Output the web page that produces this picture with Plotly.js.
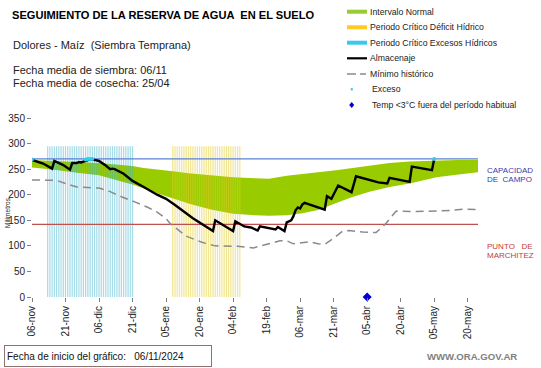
<!DOCTYPE html>
<html>
<head>
<meta charset="utf-8">
<script src="https://cdn.plot.ly/plotly-3.0.1.min.js"></script>
<style>html,body{margin:0;padding:0;background:#fff}#chart{width:541px;height:368px}</style>
</head>
<body>
<div id="chart"></div>
<script>
// ---- data (days since 06/11/2024, millimetres) ----
const tickDays = [0,15,30,45,60,75,90,105,120,135,150,165,180,195];
const tickLabels = ["06-nov","21-nov","06-dic","21-dic","05-ene","20-ene","04-feb","19-feb","06-mar","21-mar","05-abr","20-abr","05-may","20-may"];

const normalDays  = [0,10,20,30,40,45,50,55,60,65,70,80,90,100,106,114,121,128,136,143,151,160,169,181,190,200];
const normalUpper = [268,266,264,262,258,256,252,250,247,245,242,238,234,232,231,237,240,244,248,252,257,262,265,267,268,268];
const normalLower = [253,249,243,238,226,220,212,204,197,190,183,171,163,160,159,160,164,170,184,195,206,215,222,234,239,244];

const excessPeriodDays  = [7,8,9,10,11,12,13,14,15,16,17,18,19,20,21,22,23,24,25,26,27,28,29,30,31,32,33,34,35,36,37,38,39,40,41,42,43,44,45];
const deficitPeriodDays = [63,64,65,66,67,68,69,70,71,72,73,74,75,76,77,78,79,80,81,82,83,84,85,86,87,88,89,90,91,92,93];
const periodTop = 295;

const storageDays = [0,2,5,9,10,14,17,18,20,21,22,24,26,28,30,33,35,36,37,41,45,50,56,60,64,72,76,81,82,86,90,91,95,98,101,102,106,109,110,113,114,116,117,118,119,120,121,122,131,132,134,137,143,145,155,159,160,169,170,179,180];
const storageMm   = [268,265,261,251,266,258,249,262,262,264,263,266,269,268,266,257,250,251,250,241,227,215,200,192,180,154,143,129,150,140,129,148,138,136,130,138,135,132,137,129,146,150,158,170,175,173,181,184,171,197,192,218,205,236,224,222,233,225,255,248,270];

const minDays = [0,5,11,15,20,25,30,35,40,46,52,56,60,62,66,69,76,82,92,99,106,111,114,117,124,128,131,135,139,142,148,154,158,163,170,180,187,194,199];
const minMm   = [229,228,228,222,215,214,213,206,196,186,175,166,153,143,130,119,107,100,99,96,104,110,110,104,108,104,103,115,129,130,127,126,142,168,167,168,169,172,171];

const excessDays = [0,24,25,26,27,180];
const excessMm   = [269,269,270,270,270,270];

const frostDays = [150];
const frostMm   = [0];

const fieldCapacity = 270;
const wiltingPoint  = 142;
const axisEnd = 199.6;

// ---- geometry helpers (pixel -> paper) ----
const L = 32, T = 118, W = 446, H = 179;
const px = x => (x - L) / W;
const py = y => (T + H - y) / H;
const FONT = "Liberation Sans, Arial, sans-serif";

const traces = [
  {x: normalDays, y: normalLower, type:'scatter', mode:'lines', line:{width:0, color:'rgba(0,0,0,0)'}, hoverinfo:'skip', showlegend:false, zorder:0},
  {x: normalDays, y: normalUpper, type:'scatter', mode:'lines', fill:'tonexty', fillcolor:'#99cc00', line:{width:0, color:'#99cc00'}, name:'Intervalo Normal', showlegend:false, zorder:0},
  {x: frostDays, y: frostMm, type:'scatter', mode:'markers', marker:{color:'#0000cc', size:7, symbol:'diamond'}, cliponaxis:false, name:'Temp <3°C fuera del período habitual', showlegend:false, zorder:0},
  {x: excessPeriodDays, y: excessPeriodDays.map(() => periodTop), type:'bar', width:0.55, marker:{color:'rgba(55,177,204,0.45)', line:{width:0}}, name:'Periodo Crítico Excesos Hídricos', showlegend:false, zorder:1},
  {x: deficitPeriodDays, y: deficitPeriodDays.map(() => periodTop), type:'bar', width:0.55, marker:{color:'rgba(228,206,40,0.5)', line:{width:0}}, name:'Periodo Crítico Déficit Hídrico', showlegend:false, zorder:1},
  {x: [0, axisEnd], y: [fieldCapacity, fieldCapacity], type:'scatter', mode:'lines', line:{color:'#5b82d4', width:1.2}, showlegend:false, zorder:2},
  {x: [0, axisEnd], y: [wiltingPoint, wiltingPoint], type:'scatter', mode:'lines', line:{color:'#c0504d', width:1.2}, showlegend:false, zorder:2},
  {x: minDays, y: minMm, type:'scatter', mode:'lines', line:{color:'#8a8a8a', width:1.5, dash:'8px,5px'}, name:'Mínimo histórico', showlegend:false, zorder:2},
  {x: storageDays, y: storageMm, type:'scatter', mode:'lines', line:{color:'#000', width:2.4}, name:'Almacenaje', showlegend:false, zorder:3},
  {x: excessDays, y: excessMm, type:'scatter', mode:'markers', marker:{color:'#33ccee', size:4, symbol:'circle'}, name:'Exceso', showlegend:false, zorder:4}
];

const ann = [];
const shapes = [];
function text(t, x, y, opts) {
  ann.push(Object.assign({text:t, x:px(x), y:py(y), xref:'paper', yref:'paper', xanchor:'left', yanchor:'middle', showarrow:false, align:'left', font:{family:FONT, size:11, color:'#111'}}, opts||{}));
}
text('<b>SEGUIMIENTO DE LA RESERVA DE AGUA  EN EL SUELO</b>', 10, 15, {font:{family:FONT, size:11.1, color:'#000'}});
text('Dolores - Maíz  (Siembra Temprana)', 11, 45, {font:{family:FONT, size:11, color:'#222'}});
text('Fecha media de siembra: 06/11', 11, 70, {font:{family:FONT, size:11, color:'#222'}});
text('Fecha media de cosecha: 25/04', 11, 83, {font:{family:FONT, size:11, color:'#222'}});

// manual legend
const legRows = [11.7, 27.3, 42.7, 58.3, 74, 89.3, 105];
const legNames = ['Intervalo Normal','Periodo Crítico Déficit Hídrico','Periodo Crítico Excesos Hídricos','Almacenaje','Mínimo histórico','Exceso','Temp <3°C fuera del período habitual'];
const legColors = ['#99cc33','#ffc926','#3cc8ee'];
for (let i = 0; i < 3; i++) {
  shapes.push({type:'line', xref:'paper', yref:'paper', x0:px(347), x1:px(367), y0:py(legRows[i]), y1:py(legRows[i]), line:{color:legColors[i], width:4}});
}
shapes.push({type:'line', xref:'paper', yref:'paper', x0:px(347), x1:px(367), y0:py(legRows[3]), y1:py(legRows[3]), line:{color:'#000', width:2.2}});
shapes.push({type:'line', xref:'paper', yref:'paper', x0:px(347), x1:px(356), y0:py(legRows[4]), y1:py(legRows[4]), line:{color:'#8a8a8a', width:1.5}});
shapes.push({type:'line', xref:'paper', yref:'paper', x0:px(360), x1:px(366), y0:py(legRows[4]), y1:py(legRows[4]), line:{color:'#8a8a8a', width:1.5}});
shapes.push({type:'circle', xref:'paper', yref:'paper', x0:px(350.5), x1:px(353), y0:py(legRows[5]-1.3), y1:py(legRows[5]+1.3), fillcolor:'#33ccee', line:{width:0}});
{
  const cx = 351.7, cy = legRows[6];
  shapes.push({type:'path', xref:'paper', yref:'paper',
    path:`M ${px(cx)} ${py(cy-3)} L ${px(cx+2.5)} ${py(cy)} L ${px(cx)} ${py(cy+3)} L ${px(cx-2.5)} ${py(cy)} Z`,
    fillcolor:'#0000cc', line:{width:0}});
}
for (let i = 0; i < 7; i++) {
  text(legNames[i], i < 5 ? 368 : 370, legRows[i], {font:{family:FONT, size:8.7, color:'#222'}});
}

// right labels
text('CAPACIDAD', 485, 170, {font:{family:FONT, size:8, color:'#3b3bb0'}});
text('DE  CAMPO', 485, 179, {font:{family:FONT, size:8, color:'#3b3bb0'}});
text('PUNTO   DE', 485, 246.5, {font:{family:FONT, size:8, color:'#c23b3b'}});
text('MARCHITEZ', 485, 255.5, {font:{family:FONT, size:8, color:'#c23b3b'}});

// y-axis title
ann.push({text:'Milímetros', x:px(7), y:py(213), xref:'paper', yref:'paper', xanchor:'center', yanchor:'middle', textangle:-90, showarrow:false, font:{family:FONT, size:6.5, color:'#222'}});

// bottom
ann.push({text:'Fecha de inicio del gráfico:   06/11/2024', x:px(4), y:py(356), xref:'paper', yref:'paper', xanchor:'left', yanchor:'middle', showarrow:false, align:'left', width:202, height:16, borderpad:2, bordercolor:'#8c7272', borderwidth:1, font:{family:FONT, size:10, color:'#111'}});
text('<b>WWW.ORA.GOV.AR</b>', 425, 356, {font:{family:FONT, size:9.6, color:'#7f7f7f'}});

const layout = {
  width:541, height:368,
  margin:{l:L, r:541-L-W, t:T, b:368-T-H, pad:0},
  paper_bgcolor:'#fff', plot_bgcolor:'#fff',
  showlegend:false,
  barmode:'overlay',
  font:{family:FONT, size:10, color:'#222'},
  xaxis:{range:[0, axisEnd], tickmode:'array', tickvals:tickDays, ticktext:tickLabels, tickangle:-90,
    showgrid:false, zeroline:false, showline:true, linecolor:'#7f7f7f', linewidth:1,
    ticks:'outside', ticklen:4, tickcolor:'#7f7f7f', tickfont:{family:FONT, size:10, color:'#222'}},
  yaxis:{range:[0,350], dtick:50, showgrid:false, zeroline:false, showline:true, linecolor:'#7f7f7f', linewidth:1,
    ticks:'outside', ticklen:4, tickcolor:'#7f7f7f', tickfont:{family:FONT, size:10, color:'#222'}},
  annotations: ann,
  shapes: shapes
};

Plotly.newPlot('chart', traces, layout, {staticPlot:true, displayModeBar:false});
</script>
</body>
</html>
